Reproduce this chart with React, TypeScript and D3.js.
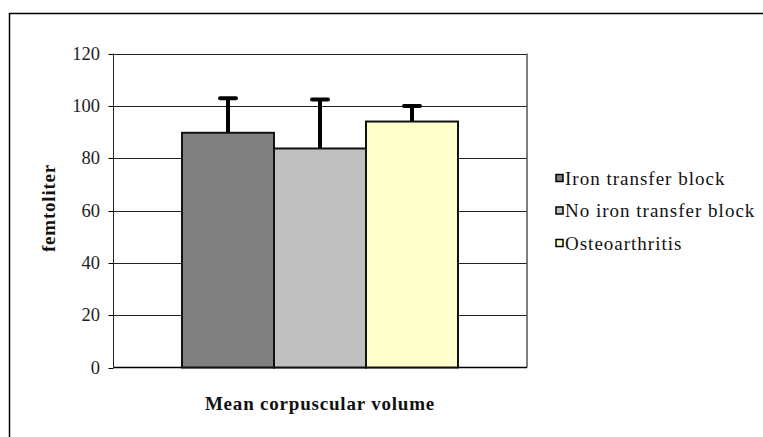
import React from "react";
import * as d3 from "d3";

const categories = ["Iron transfer block", "No iron transfer block", "Osteoarthritis"];
const means = [89.7, 83.7, 94.0];
const errorTops = [102.9, 102.4, 99.9];
const colors = ["#808080", "#c0c0c0", "#ffffcc"];
const yTicks = [0, 20, 40, 60, 80, 100, 120];
const xTitle = "Mean corpuscular volume";
const yTitle = "femtoliter";

const W = 763, H = 437;
const plot = { left: 113.5, right: 527, top: 53.5, bottom: 367.5 };
const FONT = "Liberation Serif, Times New Roman, serif";

export default function App() {
  const y = d3.scaleLinear().domain([0, 120]).range([plot.bottom, plot.top]);
  const x = d3.scaleBand().domain(categories).range([182, 458]).padding(0);
  const legendY = d3.scalePoint().domain(categories).range([178, 243]);
  return (
    <svg width={W} height={H} style={{ position: "absolute", left: 0, top: 0, background: "#fff", fontFamily: FONT }}>
      <rect x={9.5} y={13.5} width={W + 10} height={H + 10} fill="#fff" stroke="#000" strokeWidth={1.5} />
      {yTicks.map((t) => (
        <g key={t}>
          {t > 0 && (
            <line x1={plot.left} x2={plot.right} y1={Math.round(y(t)) + 0.5} y2={Math.round(y(t)) + 0.5} stroke="#222" strokeWidth={1} />
          )}
          <line x1={plot.left - 5} x2={plot.left} y1={Math.round(y(t)) + 0.5} y2={Math.round(y(t)) + 0.5} stroke="#000" />
          <text x={100} y={y(t)} textAnchor="end" dominantBaseline="central" fontSize={18.5} fill="#222">{t}</text>
        </g>
      ))}
      <line x1={plot.right} x2={plot.right} y1={plot.top} y2={plot.bottom} stroke="#555" strokeWidth={1.5} />
      <line x1={plot.left} x2={plot.left} y1={plot.top} y2={plot.bottom} stroke="#222" strokeWidth={1} />
      <line x1={plot.left} x2={plot.right} y1={plot.bottom} y2={plot.bottom} stroke="#000" strokeWidth={1.5} />
      {categories.map((c, i) => {
        const bx = x(c)!;
        const bw = x.bandwidth();
        const cx = bx + bw / 2;
        return (
          <g key={c}>
            <line x1={cx} x2={cx} y1={y(errorTops[i])} y2={y(means[i])} stroke="#000" strokeWidth={4} />
            <line x1={cx - 8} x2={cx + 8} y1={y(errorTops[i])} y2={y(errorTops[i])} stroke="#000" strokeWidth={4} strokeLinecap="round" />
            <rect x={bx} y={y(means[i])} width={bw} height={plot.bottom - y(means[i])} fill={colors[i]} stroke="#111" strokeWidth={2} />
          </g>
        );
      })}
      <text x={320} y={410} textAnchor="middle" fontSize={19} letterSpacing={0.8} fontWeight="bold" fill="#111">{xTitle}</text>
      <text transform={`translate(55,208) rotate(-90)`} textAnchor="middle" fontSize={19} letterSpacing={0.8} fontWeight="bold" fill="#111">{yTitle}</text>
      {categories.map((c, i) => {
        const ly = legendY(c)!;
        return (
          <g key={c}>
            <rect x={556} y={ly - 3.5} width={7} height={7} fill={colors[i]} stroke="#000" strokeWidth={1.5} />
            <text x={565} y={ly} dominantBaseline="central" fontSize={19} letterSpacing={1} fill="#111">{c}</text>
          </g>
        );
      })}
    </svg>
  );
}
